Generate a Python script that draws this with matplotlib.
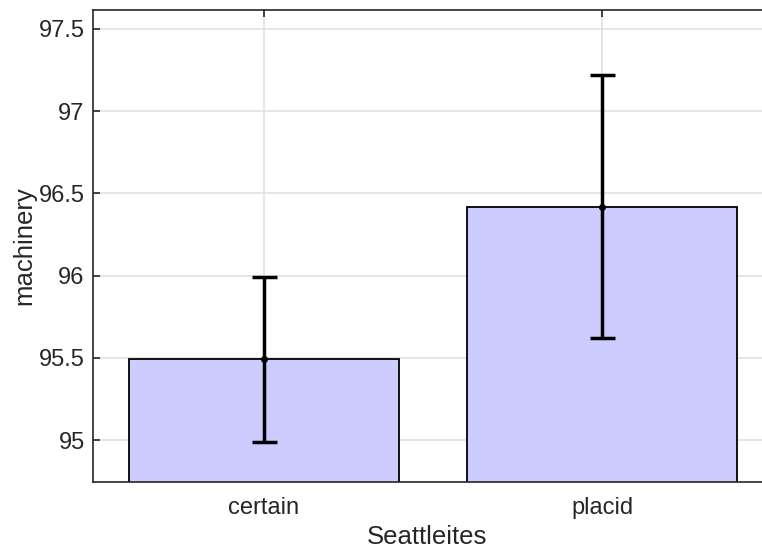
import matplotlib
matplotlib.use("Agg")
import matplotlib.pyplot as plt

categories = ["certain", "placid"]
means = [95.49, 96.42]
errors = [0.50, 0.80]
yticks = [95, 95.5, 96, 96.5, 97, 97.5]
ytick_labels = ["95", "95.5", "96", "96.5", "97", "97.5"]

plt.rcParams["font.family"] = ["Liberation Sans", "DejaVu Sans"]
text_color = "#262626"

fig = plt.figure(figsize=(7.62, 5.48), dpi=100)
ax = fig.add_axes([93 / 762, 66 / 548, 669 / 762, 472 / 548])

x = [1, 2]
ax.bar(x, means, width=0.8, color="#ccccff", edgecolor="black", linewidth=1.3, zorder=2)
ax.errorbar(x, means, yerr=errors, fmt="o", color="black", markersize=4,
            elinewidth=2.5, capsize=9, capthick=2.5, zorder=3)

ax.set_xlim(0.494, 2.473)
ax.set_ylim(94.745, 97.615)
ax.set_xticks(x)
ax.set_xticklabels(categories)
ax.set_yticks(yticks)
ax.set_yticklabels(ytick_labels)

ax.grid(True, color="#e0e0e0", linewidth=1.2, zorder=0)
ax.set_axisbelow(True)

for side in ["left", "bottom", "top"]:
    ax.spines[side].set_color(text_color)
    ax.spines[side].set_linewidth(1.2)
ax.spines["right"].set_visible(False)

ax.tick_params(axis="both", direction="in", length=5, width=1.2, color=text_color,
               labelcolor=text_color, labelsize=17, top=True)
ax.tick_params(axis="y", pad=6)
ax.tick_params(axis="x", pad=11)

ax.set_xlabel("Seattleites", fontsize=18.5, color=text_color, labelpad=4)
ax.set_ylabel("machinery", fontsize=18.5, color=text_color, labelpad=2)

fig.savefig("out.png", dpi=100)
